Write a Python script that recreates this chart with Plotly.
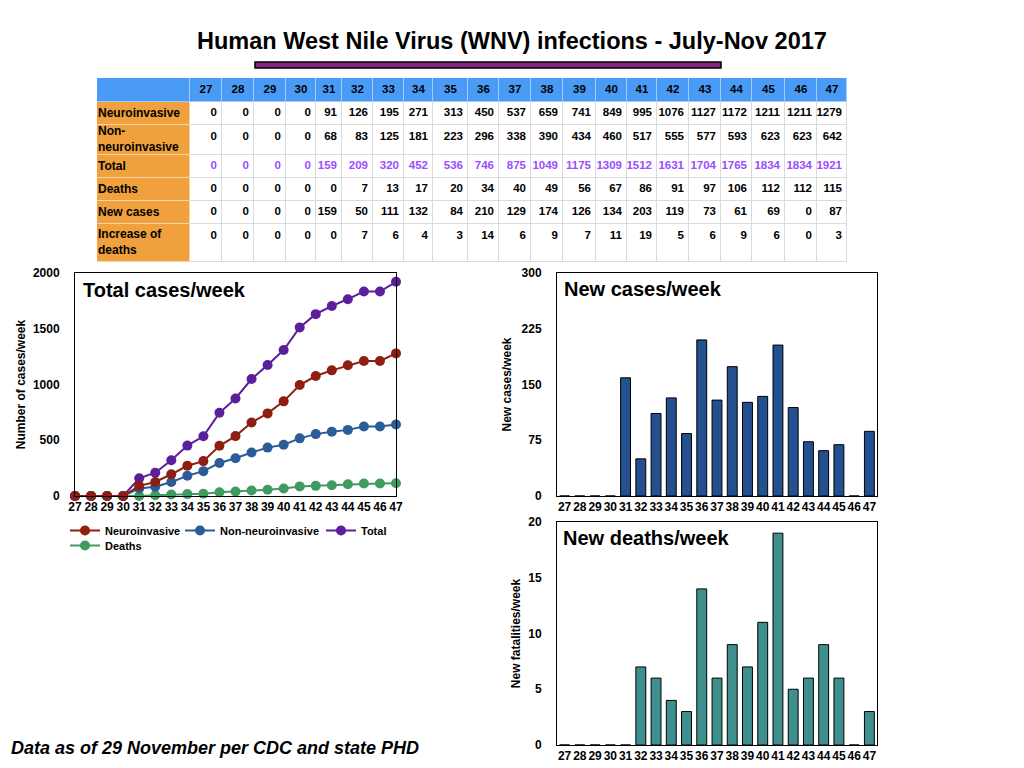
import plotly.graph_objects as go
from itertools import accumulate

# week numbers (columns of the table, x of every panel)
weeks = [27, 28, 29, 30, 31, 32, 33, 34, 35, 36, 37, 38, 39, 40, 41, 42, 43, 44, 45, 46, 47]

# cumulative counts
neuro = [0, 0, 0, 0, 91, 126, 195, 271, 313, 450, 537, 659, 741, 849, 995, 1076, 1127, 1172, 1211, 1211, 1279]
non_neuro = [0, 0, 0, 0, 68, 83, 125, 181, 223, 296, 338, 390, 434, 460, 517, 555, 577, 593, 623, 623, 642]
total = [0, 0, 0, 0, 159, 209, 320, 452, 536, 746, 875, 1049, 1175, 1309, 1512, 1631, 1704, 1765, 1834, 1834, 1921]
deaths = [0, 0, 0, 0, 0, 7, 13, 17, 20, 34, 40, 49, 56, 67, 86, 91, 97, 106, 112, 112, 115]

# weekly increments
new_cases = [0, 0, 0, 0, 159, 50, 111, 132, 84, 210, 129, 174, 126, 134, 203, 119, 73, 61, 69, 0, 87]
new_deaths = [0, 0, 0, 0, 0, 7, 6, 4, 3, 14, 6, 9, 7, 11, 19, 5, 6, 9, 6, 0, 3]

row_labels = ["Neuroinvasive", "Non-<br>neuroinvasive", "Total", "Deaths", "New cases", "Increase of<br>deaths"]

# the page body has an 8px margin, so the figure sits at (8, 8) and runs to the window edge
OFF = 8
W, H = 1024 - OFF, 768 - OFF
SANS = "Liberation Sans, Arial, sans-serif"
BLUE_HDR = "#4a9bf5"
ORANGE = "#f0a03c"
PURPLE_TXT = "#9b4dff"

C_NEURO = "#8e1e12"
C_NON = "#2b5c98"
C_TOTAL = "#5b1f9b"
C_DEATH = "#3f9b60"
C_BAR1 = "#24508f"
C_BAR2 = "#3f8f8f"


# screen pixel -> paper fraction
def px_x(v):
    return (v - OFF) / W


def px_y(v):
    return 1 - (v - OFF) / H


fig = go.Figure()

# ---- table, drawn as heatmap bricks on its own axis (units = pixels) ----
col_w = [93, 32, 32, 32, 30, 26, 31, 31, 29, 35, 31, 32, 32, 33, 31, 30, 32, 32, 31, 33, 32, 30]
row_h = [24, 23, 30, 23, 23, 23, 38]
x_edges = [0] + list(accumulate(col_w))
y_edges = [0] + list(accumulate(row_h))

kind = [[0] * len(col_w)] + [[1] + [2] * len(weeks) for _ in row_labels]
# separator colours underneath, cell colours on top with 1px gaps
fig.add_trace(go.Heatmap(x=x_edges, y=y_edges, z=kind, zmin=0, zmax=2, showscale=False,
                         colorscale=[[0, "#a3cdf9"], [0.5, "#f8d4a6"], [1, "#dadada"]],
                         hoverinfo="skip", xaxis="x4", yaxis="y4"))
fig.add_trace(go.Heatmap(x=x_edges, y=y_edges, z=kind, zmin=0, zmax=2, showscale=False,
                         colorscale=[[0, BLUE_HDR], [0.5, ORANGE], [1, "white"]],
                         xgap=1, ygap=1, hoverinfo="skip", xaxis="x4", yaxis="y4"))

col_mid = [(x_edges[i] + x_edges[i + 1]) / 2 for i in range(1, len(col_w))]
col_right = [x_edges[i + 1] - 5 for i in range(1, len(col_w))]
row_mid = [(y_edges[i] + y_edges[i + 1]) / 2 for i in range(1, len(row_h))]
row_num_y = [y_edges[i] + min(row_h[i] / 2, 12.5) for i in range(1, len(row_h))]

tbl_font = dict(family=SANS, size=11.5, color="black", weight="bold")
fig.add_trace(go.Scatter(x=col_mid, y=[row_h[0] / 2] * len(weeks), text=[str(w) for w in weeks],
                         mode="text", textposition="middle center", textfont=tbl_font,
                         cliponaxis=False, hoverinfo="skip", showlegend=False, xaxis="x4", yaxis="y4"))
fig.add_trace(go.Scatter(x=[1] * len(row_labels), y=row_mid, text=row_labels,
                         mode="text", textposition="middle right", textfont=dict(tbl_font, size=12),
                         cliponaxis=False, hoverinfo="skip", showlegend=False, xaxis="x4", yaxis="y4"))
rows = [neuro, non_neuro, total, deaths, new_cases, new_deaths]
for r, vals in enumerate(rows):
    f = dict(tbl_font, color=PURPLE_TXT if vals is total else "black")
    fig.add_trace(go.Scatter(x=col_right, y=[row_num_y[r]] * len(weeks), text=[str(v) for v in vals],
                             mode="text", textposition="middle left", textfont=f,
                             cliponaxis=False, hoverinfo="skip", showlegend=False, xaxis="x4", yaxis="y4"))

# ---- cumulative line chart ----
line_series = [
    ("Deaths", deaths, C_DEATH, "legend2", 4, None),
    ("Non-neuroinvasive", non_neuro, C_NON, "legend", 2, 96),
    ("Total", total, C_TOTAL, "legend", 3, None),
    ("Neuroinvasive", neuro, C_NEURO, "legend", 1, 70),
]
for name, ys, col, leg, rank, lw in line_series:
    fig.add_trace(go.Scatter(
        x=weeks, y=ys, name=name, mode="lines+markers",
        line=dict(color=col, width=2), marker=dict(color=col, size=10),
        cliponaxis=False, legend=leg, legendrank=rank, legendwidth=lw,
        xaxis="x", yaxis="y",
    ))

# ---- weekly bars ----
fig.add_trace(go.Bar(x=weeks, y=new_cases, marker=dict(color=C_BAR1, line=dict(color="black", width=1)),
                     showlegend=False, hoverinfo="skip", xaxis="x2", yaxis="y2"))
fig.add_trace(go.Bar(x=weeks, y=new_deaths, marker=dict(color=C_BAR2, line=dict(color="black", width=1)),
                     showlegend=False, hoverinfo="skip", xaxis="x3", yaxis="y3"))

tickf = dict(family=SANS, size=12, color="black", weight="bold")
titlef = dict(family=SANS, size=12, color="black", weight="bold")
frame = dict(showline=True, mirror=True, linecolor="black", linewidth=1, automargin=False,
             showgrid=False, zeroline=False, ticks="", tickfont=tickf, tickangle=0)
hidden = dict(showline=False, showgrid=False, zeroline=False, showticklabels=False,
              ticks="", automargin=False, fixedrange=True)
leg_font = dict(family=SANS, size=11, color="black", weight="bold")

fig.update_layout(
    width=W, height=H,
    margin=dict(l=0, r=0, t=0, b=0, autoexpand=False),
    paper_bgcolor="white", plot_bgcolor="white",
    bargap=0.35,
    xaxis=dict(domain=[px_x(75), px_x(396)], anchor="y", range=[27, 47], dtick=1, **frame),
    yaxis=dict(domain=[px_y(496), px_y(273)], anchor="x", range=[0, 2000], dtick=500,
               ticklabelstandoff=12, title=dict(text="Number of cases/week", font=titlef, standoff=4), **frame),
    xaxis2=dict(domain=[px_x(557), px_x(877)], anchor="y2", range=[26.5, 47.5], dtick=1, **frame),
    yaxis2=dict(domain=[px_y(496), px_y(273)], anchor="x2", range=[0, 300], dtick=75,
                ticklabelstandoff=12, title=dict(text="New cases/week", font=titlef, standoff=7), **frame),
    xaxis3=dict(domain=[px_x(557), px_x(877)], anchor="y3", range=[26.5, 47.5], dtick=1, **frame),
    yaxis3=dict(domain=[px_y(745), px_y(522)], anchor="x3", range=[0, 20], dtick=5,
                ticklabelstandoff=12, title=dict(text="New fatalities/week", font=titlef, standoff=5), **frame),
    xaxis4=dict(domain=[px_x(97), px_x(97 + x_edges[-1])], anchor="y4", range=[0, x_edges[-1]], **hidden),
    yaxis4=dict(domain=[px_y(78 + y_edges[-1]), px_y(78)], anchor="x4", range=[y_edges[-1], 0], **hidden),
    legend=dict(orientation="h", x=px_x(65), xanchor="left", y=px_y(516), yanchor="top",
                font=leg_font, bgcolor="rgba(0,0,0,0)", traceorder="normal"),
    legend2=dict(orientation="h", x=px_x(65), xanchor="left", y=px_y(531), yanchor="top",
                 font=leg_font, bgcolor="rgba(0,0,0,0)"),
    showlegend=True,
)

# purple rule under the title
fig.add_shape(type="rect", xref="paper", yref="paper",
              x0=px_x(255), x1=px_x(721), y0=px_y(68), y1=px_y(62),
              fillcolor="#86257f", line=dict(color="black", width=1.5))

annots = [
    dict(text="<b>Human West Nile Virus (WNV) infections - July-Nov 2017</b>", x=px_x(512), y=px_y(41),
         xanchor="center", font=dict(family=SANS, size=23.5, color="black")),
    dict(text="<b>Total cases/week</b>", x=px_x(81), y=px_y(290), xanchor="left",
         font=dict(family=SANS, size=20, color="black")),
    dict(text="<b>New cases/week</b>", x=px_x(562), y=px_y(289), xanchor="left",
         font=dict(family=SANS, size=20, color="black")),
    dict(text="<b>New deaths/week</b>", x=px_x(561), y=px_y(538), xanchor="left",
         font=dict(family=SANS, size=20, color="black")),
    dict(text="<b><i>Data as of 29 November per CDC and state PHD</i></b>", x=px_x(9), y=px_y(748),
         xanchor="left", font=dict(family=SANS, size=18, color="black")),
]
for a in annots:
    fig.add_annotation(xref="paper", yref="paper", yanchor="middle", showarrow=False, **a)

fig.write_html("out.html")
